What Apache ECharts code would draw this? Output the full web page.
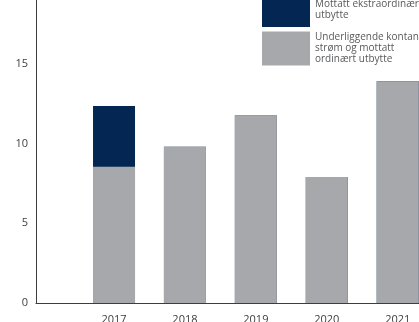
<!DOCTYPE html>
<html>
<head>
<meta charset="utf-8">
<script src="https://cdn.jsdelivr.net/npm/echarts@6/dist/echarts.min.js"></script>
<style>
  html, body { margin: 0; padding: 0; background: #fff; }
  #chart { width: 419px; height: 322px; }
</style>
</head>
<body>
<div id="chart"></div>
<script>
// Years on the horizontal axis
const years = [2017, 2018, 2019, 2020, 2021];
// Underlying cash flow and received ordinary dividend
const ordinary = [8.55, 9.8, 11.75, 7.9, 13.9];
// Received extraordinary dividend (sits on top of the ordinary part)
const extraordinary = [3.8, 0, 0, 0, 0];
// Value-axis tick labels
const yTicks = [0, 5, 10, 15];

const nameExtra = 'Mottatt ekstraordinært\nutbytte';
const nameOrdinary = 'Underliggende kontant-\nstrøm og mottatt\nordinært utbytte';

// The dark bar spans the full total; the grey part is drawn over its lower section
const totals = ordinary.map((v, i) => v + extraordinary[i]);

const font = 'Open Sans';
const chart = echarts.init(document.getElementById('chart'), null, { renderer: 'canvas' });

chart.setOption({
  animation: false,
  backgroundColor: '#ffffff',
  grid: { left: 36, right: 0, top: 0, bottom: 19, containLabel: false, outerBoundsMode: 'none' },
  legend: {
    orient: 'vertical',
    left: 262,
    top: -7,
    padding: 0,
    itemWidth: 48,
    itemHeight: 34,
    itemGap: 3,
    icon: 'rect',
    textStyle: { fontFamily: font, fontSize: 10, color: '#58595b', lineHeight: 11 },
    data: [
      { name: nameExtra, textStyle: { padding: [0, 0, 9, 0] } },
      { name: nameOrdinary, textStyle: { padding: [4, 0, 0, 0] } }
    ]
  },
  xAxis: {
    type: 'value',
    min: 2015.9,
    max: 2021.3,
    splitLine: { show: false },
    axisTick: { show: false },
    axisLine: { show: true, lineStyle: { color: '#3d3d3d', width: 1 } },
    axisLabel: {
      customValues: years,
      formatter: v => String(v),
      margin: 11,
      fontFamily: font,
      fontSize: 11,
      color: '#3d3d3d'
    }
  },
  yAxis: {
    type: 'value',
    min: 0,
    max: 19,
    interval: 5,
    splitLine: { show: false },
    axisTick: { show: false },
    axisLine: { show: true, lineStyle: { color: '#3d3d3d', width: 1 } },
    axisLabel: {
      showMaxLabel: false,
      formatter: v => (yTicks.includes(v) ? String(v) : ''),
      margin: 8,
      fontFamily: font,
      fontSize: 11,
      color: '#3d3d3d'
    }
  },
  series: [
    {
      name: nameExtra,
      type: 'bar',
      barWidth: 42,
      barGap: '-100%',
      itemStyle: { color: '#032752' },
      data: years.map((y, i) => [y, totals[i]])
    },
    {
      name: nameOrdinary,
      type: 'bar',
      barWidth: 42,
      barGap: '-100%',
      itemStyle: { color: '#a7a8ab' },
      data: years.map((y, i) => [y, ordinary[i]])
    }
  ]
});
</script>
</body>
</html>
